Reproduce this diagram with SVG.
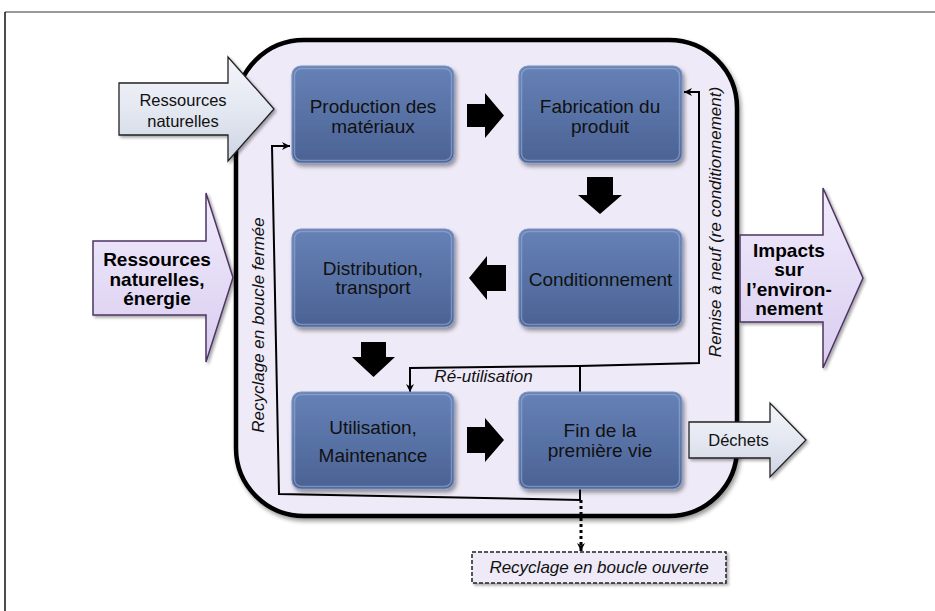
<svg xmlns="http://www.w3.org/2000/svg" width="935" height="611" viewBox="0 0 935 611">
<defs>
<style>
text{font-family:"Liberation Sans",Arial,sans-serif;fill:#111;}
.node{font-size:19px;text-anchor:middle;}
.big{font-size:19px;font-weight:bold;text-anchor:middle;fill:#000;}
.lbl{font-size:16.5px;text-anchor:middle;}
.it{font-size:17px;font-style:italic;text-anchor:middle;}
.box{fill:url(#gNode);stroke:#7d93c0;stroke-width:1.2;filter:url(#sh);}
.hl{fill:none;stroke:#9fb3da;stroke-opacity:0.55;stroke-width:1.5;}
.blk{fill:#000;}
.ln{fill:none;stroke:#000;stroke-width:2;}
.pur{fill:url(#gPur);stroke:#4e3462;stroke-width:1.5;filter:url(#sh2);}
.lite{fill:url(#gLite);stroke:#222;stroke-width:1.3;filter:url(#sh2);}
</style>
<linearGradient id="gNode" x1="0" y1="0" x2="0" y2="1">
<stop offset="0" stop-color="#6681b6"/>
<stop offset="0.5" stop-color="#5872a6"/>
<stop offset="1" stop-color="#4b6293"/>
</linearGradient>
<linearGradient id="gPur" x1="0" y1="0" x2="0" y2="1">
<stop offset="0" stop-color="#f1ecfb"/>
<stop offset="0.5" stop-color="#e5dcf6"/>
<stop offset="1" stop-color="#d9cdef"/>
</linearGradient>
<linearGradient id="gLite" x1="0" y1="0" x2="0" y2="1">
<stop offset="0" stop-color="#f3f5fa"/>
<stop offset="0.5" stop-color="#e4e8f1"/>
<stop offset="1" stop-color="#cdd4e3"/>
</linearGradient>
<filter id="sh" x="-10%" y="-10%" width="130%" height="130%">
<feDropShadow dx="2" dy="3" stdDeviation="2" flood-color="#000" flood-opacity="0.4"/>
</filter>
<filter id="sh2" x="-10%" y="-10%" width="130%" height="130%">
<feDropShadow dx="2" dy="2" stdDeviation="1.5" flood-color="#000" flood-opacity="0.35"/>
</filter>
<marker id="ah" viewBox="0 0 10 10" refX="10" refY="5" markerWidth="8" markerHeight="8" markerUnits="userSpaceOnUse" orient="auto">
<path d="M0,0 L10,5 L0,10 L3,5 z" fill="#000"/>
</marker>
</defs>

<!-- frame -->
<line x1="5" y1="12" x2="935" y2="12" stroke="#777" stroke-width="1.5"/>
<line x1="5" y1="12" x2="5" y2="611" stroke="#111" stroke-width="1.5"/>

<!-- container -->
<g id="container">
<rect x="236" y="40" width="501" height="476" rx="68" fill="#eeeaf8" stroke="#000" stroke-width="4.5" filter="url(#sh)"/>
</g>

<!-- connectors -->
<g id="connectors">
<path class="ln" d="M580,489 L580,500 L279,494 L272,146 L290,146" marker-end="url(#ah)"/>
<path class="ln" d="M580,392 L580,366 L699,363 L699,92 L684,92" marker-end="url(#ah)"/>
<path class="ln" d="M580,366 L410,368 L410,392" marker-end="url(#ah)"/>
<path d="M581,500 L581,551" fill="none" stroke="#000" stroke-width="3" stroke-dasharray="3 3" marker-end="url(#ah)"/>
<polygon class="blk" points="467,104 485,104 485,93 504,115.5 485,138 485,127 467,127"/>
<polygon class="blk" points="587,177 613,177 613,195 622,195 600,214 578,195 587,195"/>
<polygon class="blk" points="506,265 487,265 487,256 469,278 487,300 487,291 506,291"/>
<polygon class="blk" points="361,342 386,342 386,357 395,357 373.5,377 352,357 361,357"/>
<polygon class="blk" points="467,427 485,427 485,418 504,440 485,462 485,453 467,453"/>
<text class="it" x="483.5" y="382">Ré-utilisation</text>
<text class="it" transform="translate(264,325) rotate(-90)" x="0" y="0">Recyclage en boucle fermée</text>
<text class="it" transform="translate(721,222) rotate(-90)" x="0" y="0">Remise à neuf (re conditionnement)</text>
</g>

<!-- process nodes -->
<g id="n-production">
<rect class="box" x="292" y="66" width="162" height="97" rx="9"/>
<rect class="hl" x="294.5" y="68.5" width="157" height="92" rx="7"/>
<text class="node" x="373" y="113">Production des</text>
<text class="node" x="373" y="132.5">matériaux</text>
</g>
<g id="n-fabrication">
<rect class="box" x="519" y="66" width="163" height="97" rx="9"/>
<rect class="hl" x="521.5" y="68.5" width="158" height="92" rx="7"/>
<text class="node" x="600" y="113">Fabrication du</text>
<text class="node" x="600" y="132.5">produit</text>
</g>
<g id="n-conditionnement">
<rect class="box" x="519" y="229" width="163" height="98" rx="9"/>
<rect class="hl" x="521.5" y="231.5" width="158" height="93" rx="7"/>
<text class="node" x="600.5" y="286">Conditionnement</text>
</g>
<g id="n-distribution">
<rect class="box" x="292" y="229" width="162" height="98" rx="9"/>
<rect class="hl" x="294.5" y="231.5" width="157" height="93" rx="7"/>
<text class="node" x="373" y="274.5">Distribution,</text>
<text class="node" x="373" y="294">transport</text>
</g>
<g id="n-utilisation">
<rect class="box" x="292" y="392" width="162" height="97" rx="9"/>
<rect class="hl" x="294.5" y="394.5" width="157" height="92" rx="7"/>
<text class="node" x="373" y="434">Utilisation,</text>
<text class="node" x="373" y="462">Maintenance</text>
</g>
<g id="n-fin">
<rect class="box" x="519" y="392" width="163" height="97" rx="9"/>
<rect class="hl" x="521.5" y="394.5" width="158" height="92" rx="7"/>
<text class="node" x="600" y="437">Fin de la</text>
<text class="node" x="600" y="456.5">première vie</text>
</g>

<!-- input / output arrows -->
<g id="in-ressources">
<polygon class="lite" points="119,83 228,83 228,57 274,109 228,161 228,135 119,135"/>
<text class="lbl" x="183" y="106">Ressources</text>
<text class="lbl" x="183" y="127">naturelles</text>
</g>
<g id="in-energie">
<polygon class="pur" points="93,241 206,241 206,193 233,277.5 206,362 206,315 93,315"/>
<text class="big" x="157" y="266">Ressources</text>
<text class="big" x="157" y="285.5">naturelles,</text>
<text class="big" x="157" y="305">énergie</text>
</g>
<g id="out-impacts">
<polygon class="pur" points="740,235 823,235 823,188 863,278 823,368 823,322 740,322"/>
<text class="big" x="789" y="256.5">Impacts</text>
<text class="big" x="789" y="276">sur</text>
<text class="big" x="789" y="295.5">l’environ-</text>
<text class="big" x="789" y="315">nement</text>
</g>
<g id="out-dechets">
<polygon class="lite" points="689,422 770,422 770,403 806,440 770,477 770,458 689,458"/>
<text class="lbl" x="738.5" y="446">Déchets</text>
</g>
<g id="n-recyclage-ouverte">
<rect x="472" y="552" width="254" height="31" fill="#eeeaf8" stroke="#222" stroke-width="1.5" stroke-dasharray="4 2" filter="url(#sh2)"/>
<text class="it" x="599" y="573">Recyclage en boucle ouverte</text>
</g>
</svg>
